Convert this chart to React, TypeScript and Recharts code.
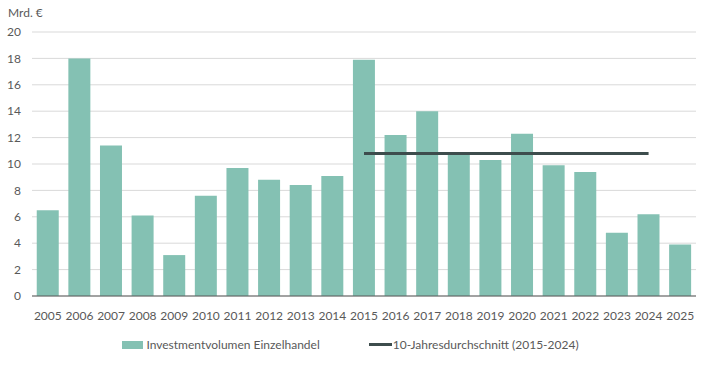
import React from 'react';
import {
    ComposedChart,
    Bar,
    Line,
    XAxis,
    YAxis,
    CartesianGrid,
} from 'recharts';

// Jahre und Volumen in Mrd. €
const years = [
    '2005', '2006', '2007', '2008', '2009', '2010', '2011', '2012', '2013', '2014',
    '2015', '2016', '2017', '2018', '2019', '2020', '2021', '2022', '2023', '2024', '2025',
];
const volumen = [
    6.5, 18.0, 11.4, 6.1, 3.1, 7.6, 9.7, 8.8, 8.4, 9.1,
    17.9, 12.2, 14.0, 10.7, 10.3, 12.3, 9.9, 9.4, 4.8, 6.2, 3.9,
];
// 10-Jahresdurchschnitt, nur 2015-2024
const avgYears = ['2015', '2016', '2017', '2018', '2019', '2020', '2021', '2022', '2023', '2024'];
const avgValue = 10.8;
const yTicks = [0, 2, 4, 6, 8, 10, 12, 14, 16, 18, 20];

const BAR_COLOR = '#84c1b3';
const LINE_COLOR = '#3d4d4d';
const TEXT_COLOR = '#595959';
const FONT = 'Lato, "Open Sans", sans-serif';

const data = years.map((year, i) => ({
    year,
    volumen: volumen[i],
    avg: avgYears.includes(year) ? avgValue : null,
}));

const App: React.FC = () => {
    return (
        <div style={{ position: 'absolute', left: 0, top: 0, width: 701, height: 369, background: '#fff' }}>
            <div
                style={{
                    position: 'absolute',
                    left: 8,
                    top: 5,
                    fontFamily: FONT,
                    fontSize: 12,
                    color: TEXT_COLOR,
                }}
            >
                Mrd. €
            </div>
            <ComposedChart
                width={701}
                height={369}
                data={data}
                margin={{ top: 32, right: 5, left: 0, bottom: 43 }}
                barCategoryGap="15%"
            >
                <CartesianGrid vertical={false} stroke="#d9d9d9" />
                <XAxis
                    dataKey="year"
                    height={30}
                    axisLine={{ stroke: TEXT_COLOR }}
                    tickLine={false}
                    tickMargin={9}
                    tick={{ fill: TEXT_COLOR, fontSize: 12, fontFamily: FONT }}
                    interval={0}
                />
                <YAxis
                    width={32}
                    domain={[0, 20]}
                    ticks={yTicks}
                    axisLine={false}
                    tickLine={false}
                    tickSize={0}
                    tickMargin={11}
                    tick={{ fill: TEXT_COLOR, fontSize: 12, fontFamily: FONT }}
                />
                <Bar
                    dataKey="volumen"
                    name="Investmentvolumen Einzelhandel"
                    fill={BAR_COLOR}
                    isAnimationActive={false}
                />
                <Line
                    dataKey="avg"
                    name="10-Jahresdurchschnitt (2015-2024)"
                    stroke={LINE_COLOR}
                    strokeWidth={3}
                    dot={false}
                    activeDot={false}
                    connectNulls={false}
                    isAnimationActive={false}
                />
            </ComposedChart>
            <div
                style={{
                    position: 'absolute',
                    left: 0,
                    top: 337,
                    width: 701,
                    display: 'flex',
                    justifyContent: 'center',
                    alignItems: 'center',
                    gap: 49,
                    fontFamily: FONT,
                    fontSize: 12,
                    color: TEXT_COLOR,
                }}
            >
                <div style={{ display: 'flex', alignItems: 'center' }}>
                    <span style={{ display: 'inline-block', width: 21, height: 8, background: BAR_COLOR, marginRight: 3 }} />
                    <span>Investmentvolumen Einzelhandel</span>
                </div>
                <div style={{ display: 'flex', alignItems: 'center' }}>
                    <span style={{ display: 'inline-block', width: 23, height: 3, background: LINE_COLOR, marginRight: 1 }} />
                    <span>10-Jahresdurchschnitt (2015-2024)</span>
                </div>
            </div>
        </div>
    );
};

export default App;
